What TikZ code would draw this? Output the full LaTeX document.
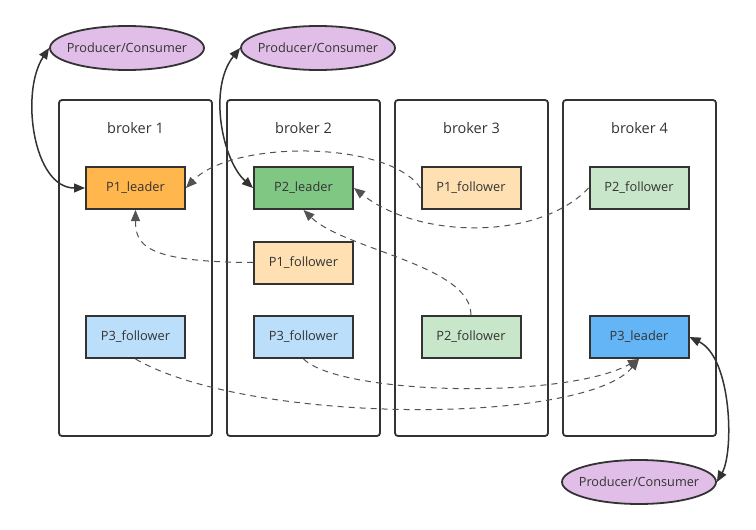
\documentclass[tikz,border=0pt]{standalone}
\usepackage{fontspec}
\setmainfont{Open Sans}
\usetikzlibrary{arrows.meta,shapes.geometric}
\definecolor{ink}{HTML}{333333}
\definecolor{pc}{HTML}{E1BEE7}
\definecolor{lead1}{HTML}{FFB74D}
\definecolor{lead2}{HTML}{81C784}
\definecolor{lead3}{HTML}{64B5F6}
\definecolor{fol1}{HTML}{FFE0B2}
\definecolor{fol2}{HTML}{C8E6C9}
\definecolor{fol3}{HTML}{BBDEFB}
\tikzset{
  brokerbox/.style={draw=ink, line width=1.8pt, rounded corners=3pt, minimum width=153pt, minimum height=336pt, inner sep=0pt},
  brokerlabel/.style={text=ink, font=\fontsize{14.5}{17}\selectfont},
  part/.style={draw=ink, line width=2pt, minimum width=99pt, minimum height=42pt, inner sep=0pt, text=ink, font=\fontsize{12.8}{15}\selectfont},
  pcell/.style={ellipse, draw=ink, fill=pc, line width=1.8pt, minimum width=154pt, minimum height=44pt, inner xsep=-14pt, inner ysep=0pt, text=ink, font=\fontsize{12.7}{15}\selectfont},
  tip/.style={-{Triangle[length=11pt,width=9pt]}},
  both/.style={{Triangle[length=11pt,width=9pt]}-{Triangle[length=11pt,width=9pt]}, draw=ink, line width=1.5pt},
  repl/.style={tip, draw=ink!85, line width=1pt, dash pattern=on 6pt off 5pt},
}
\begin{document}
\begin{tikzpicture}[x=1pt,y=-1pt]
\useasboundingbox (0,0) rectangle (756,530);
% brokers
\node[brokerbox] (b1) at (135.5,268) {};
\node[brokerbox] (b2) at (303.5,268) {};
\node[brokerbox] (b3) at (471.5,268) {};
\node[brokerbox] (b4) at (639.5,268) {};
\node[brokerlabel] (l1) at (135.5,128) {broker 1};
\node[brokerlabel] (l2) at (303.5,128) {broker 2};
\node[brokerlabel] (l3) at (471.5,128) {broker 3};
\node[brokerlabel] (l4) at (639.5,128) {broker 4};
% partitions
\node[part, fill=lead1] (p1l) at (135.5,188) {P1\_leader};
\node[part, fill=lead2] (p2l) at (303.5,188) {P2\_leader};
\node[part, fill=fol1] (p1f3) at (471,188) {P1\_follower};
\node[part, fill=fol2] (p2f4) at (639,188) {P2\_follower};
\node[part, fill=fol1] (p1f2) at (303.5,262.5) {P1\_follower};
\node[part, fill=fol3] (p3f1) at (135.5,337) {P3\_follower};
\node[part, fill=fol3] (p3f2) at (303.5,337) {P3\_follower};
\node[part, fill=fol2] (p2f3) at (471,337) {P2\_follower};
\node[part, fill=lead3] (p3l) at (639,337) {P3\_leader};
% producers/consumers
\node[pcell] (e1) at (127,48) {Producer/Consumer};
\node[pcell] (e2) at (318,48) {Producer/Consumer};
\node[pcell] (e3) at (639,482) {Producer/Consumer};
% client links
\draw[both] (e1.west) .. controls (20,92) and (33,188) .. (p1l.west);
\draw[both] (e2.west) .. controls (208,88) and (222,160) .. (p2l.west);
\draw[both] (p3l.east) .. controls (732,358) and (734,452) .. (e3.east);
% replication
\draw[repl] (p1f3.west) .. controls (388,140) and (232,140) .. (p1l.east);
\draw[repl] (p1f2.west) .. controls (145,262) and (135.5,245) .. (p1l.south);
\draw[repl] (p2f4.west) .. controls (540,240) and (420,240) .. (p2l.east);
\draw[repl] (p2f3.north) .. controls (471,265) and (345,250) .. (p2l.south);
\draw[repl] (p3f2.south) .. controls (340,395) and (565,400) .. (p3l.south);
\draw[repl] (p3f1.south) .. controls (250,425) and (585,425) .. (p3l.south);
\end{tikzpicture}
\end{document}
